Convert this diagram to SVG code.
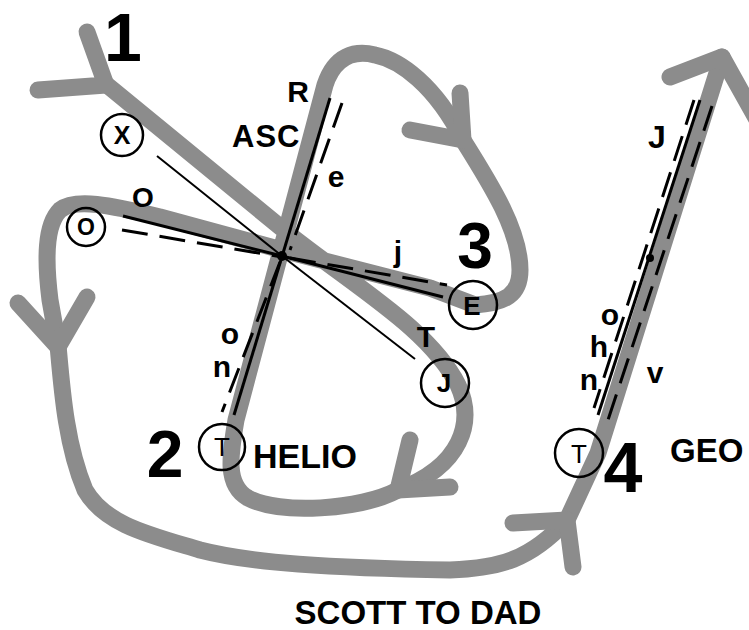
<svg xmlns="http://www.w3.org/2000/svg" width="749" height="630" viewBox="0 0 749 630">
<style>
.band{fill:none;stroke:#8c8c8c;stroke-width:17;stroke-linecap:round;stroke-linejoin:round}
.ln{fill:none;stroke:#000;stroke-width:3}
.thin{fill:none;stroke:#000;stroke-width:2}
.dash{fill:none;stroke:#000;stroke-width:3;stroke-dasharray:26 12}
.ring{fill:none;stroke:#000;stroke-width:2.5}
text{font-family:"Liberation Sans",Arial,sans-serif;font-weight:bold;fill:#000}
.big{text-anchor:middle}
.mid{text-anchor:middle}
.cl{text-anchor:middle;font-size:26px}
</style>
<rect width="749" height="630" fill="#fff"/>
<g id="connectors">
<path class="band" d="M107,85 L290,235 C360,290 430,330 458,385 C475,422 462,466 398,490 C360,510 280,515 248,498 C225,485 230,455 236,420 L325,85 C335,55 355,50 375,55 C400,60 435,85 463,140 C490,183 520,230 520,270 C520,295 505,303 475,305 L430,288 L282,250 L160,217 C110,205 75,198 60,210 C45,225 45,260 50,300 L58,345 C62,390 66,445 85,490 C105,525 150,535 200,550 C250,563 330,568 450,570 C500,568 530,560 567,520 L598,453 L722,57"/>
<path class="band" d="M87,32 L106,85 L38,90"/>
<path class="band" d="M460,93 L463,140 L410,130"/>
<path class="band" d="M18,303 L58,347 L87,297"/>
<path class="band" d="M410,440 L398,490 L450,487"/>
<path class="band" d="M513,523 L567,520 L573,567"/>
<path class="band" d="M670,77 L722,57 L760,125"/>
<line class="thin" x1="157" y1="156" x2="282" y2="256"/>
<line class="ln" x1="123" y1="216" x2="282" y2="256"/>
<line class="dash" x1="122" y1="230" x2="282" y2="257" stroke-dasharray="18 10"/>
<line class="ln" x1="282" y1="256" x2="443" y2="297"/>
<line class="dash" x1="290" y1="258" x2="447" y2="285"/>
<line class="thin" x1="282" y1="256" x2="415" y2="359"/>
<line class="ln" x1="330" y1="98" x2="234" y2="415"/>
<line class="dash" x1="342" y1="103" x2="290" y2="250" stroke-dasharray="31 19"/>
<line class="dash" x1="280" y1="262" x2="222" y2="412" stroke-dasharray="28 12"/>
<line class="ln" x1="700" y1="100" x2="598" y2="415"/>
<line class="dash" x1="712" y1="106" x2="608" y2="420" stroke-dasharray="30 18"/>
<line class="dash" x1="694" y1="100" x2="594" y2="408" stroke-dasharray="30 22"/>
<circle cx="282" cy="256" r="5" fill="#000"/>
<circle cx="650" cy="258" r="4" fill="#000"/>
</g>
<g id="node-X"><circle class="ring" cx="122" cy="135" r="21"/><text class="cl" x="122" y="144" style="font-size:25px">X</text></g>
<g id="node-O"><circle class="ring" cx="86" cy="227" r="19"/><text class="cl" x="86" y="235" style="font-size:23px">O</text></g>
<g id="node-E"><circle class="ring" cx="473" cy="305" r="24"/><text class="cl" x="472" y="315">E</text></g>
<g id="node-J"><circle class="ring" cx="445" cy="383" r="24"/><text class="cl" x="444" y="392">J</text></g>
<g id="node-T2"><circle class="ring" cx="222" cy="447" r="23"/><text class="cl" x="222" y="456" style="font-weight:normal">T</text></g>
<g id="node-T4"><circle class="ring" cx="579" cy="453" r="24"/><text class="cl" x="579" y="463" style="font-weight:normal">T</text></g>
<g id="labels">
<text class="big" x="123" y="61" font-size="68">1</text>
<text class="big" x="165" y="477" font-size="66">2</text>
<text class="big" x="475" y="268" font-size="64">3</text>
<text class="big" x="623" y="492" font-size="70">4</text>
<text class="mid" x="298" y="102" font-size="30">R</text>
<text x="232" y="147" font-size="31" letter-spacing="1">ASC</text>
<text class="mid" x="336" y="187" font-size="30">e</text>
<text class="mid" x="143" y="207" font-size="28">O</text>
<text class="mid" x="398" y="262" font-size="30">j</text>
<text class="mid" x="426" y="347" font-size="30">T</text>
<text class="mid" x="230" y="344" font-size="30">o</text>
<text class="mid" x="222" y="377" font-size="30">n</text>
<text x="253" y="468" font-size="34">HELIO</text>
<text class="mid" x="657" y="148" font-size="32">J</text>
<text class="mid" x="610" y="325" font-size="30">o</text>
<text class="mid" x="599" y="357" font-size="30">h</text>
<text class="mid" x="589" y="390" font-size="30">n</text>
<text class="mid" x="655" y="383" font-size="30">v</text>
<text x="670" y="462" font-size="33">GEO</text>
<text class="mid" x="418" y="624" font-size="33">SCOTT TO DAD</text>
</g>
</svg>
